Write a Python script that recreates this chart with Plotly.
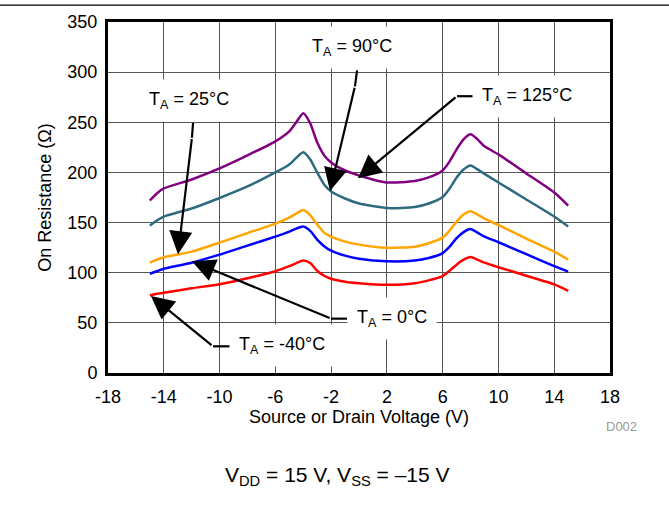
import plotly.graph_objects as go

# ---------------- data ----------------
voltage = [-15, -14.5, -14, -12, -10, -8, -6, -5, -4.5, -4, -3.5, -3, -2.5, -2, -1, 0,
           2, 4, 5, 6, 6.5, 7, 7.5, 8, 8.5, 9, 10, 12, 14, 15]

r_125 = [172, 179, 184, 193, 204, 217, 231, 241, 250, 259, 249, 230, 217, 210, 202, 197,
         190, 191.5, 195, 202, 211, 223, 233, 238, 233, 226, 218, 199, 180, 167]
r_90 = [147, 152, 156, 164, 174.5, 186, 200, 208, 214.5, 220, 213, 200, 188, 181, 174, 169,
        164.5, 165.5, 169, 175.5, 184, 195, 203, 207, 203, 198.5, 190, 173, 156, 146]
r_25 = [110, 113, 115.5, 121, 130, 139.5, 149, 155, 159, 162.5, 157.5, 148, 140, 136, 131, 128,
        124.8, 126, 129.4, 135, 142, 151, 158, 161.3, 158, 154, 147.6, 134, 121, 113]
r_0 = [99, 101.5, 104, 110, 118, 127, 136, 141, 144, 146, 141.7, 133, 126.5, 122, 117, 114,
       111.4, 112.2, 114.7, 119.6, 126, 134.4, 140.5, 143.6, 140, 136, 130.4, 118.5, 106.5, 101]
r_m40 = [77.5, 79, 80, 84.5, 88.5, 94.5, 101.5, 106.5, 109.5, 112.3, 109.7, 102, 97, 94, 91, 89.5,
         88, 89.5, 92.4, 96.6, 102, 108, 113, 115.7, 113, 110, 105.5, 97, 88.4, 82]

series_names = ["T<sub>A</sub> = 125°C", "T<sub>A</sub> = 90°C", "T<sub>A</sub> = 25°C",
                "T<sub>A</sub> = 0°C", "T<sub>A</sub> = -40°C"]
series_values = [r_125, r_90, r_25, r_0, r_m40]
series_colors = ["#800080", "#2F6B80", "#FFA500", "#0000FF", "#FF0000"]

x_ticks = [-18, -14, -10, -6, -2, 2, 6, 10, 14, 18]
x_tick_labels = ["-18", "-14", "-10", "-6", "-2", "2", "6", "10", "14", "18"]
y_ticks = [0, 50, 100, 150, 200, 250, 300, 350]
y_tick_labels = ["0", "50", "100", "150", "200", "250", "300", "350"]

# label positions (data coords): text centre, leader start, bend, arrow tip
label_text_pos = [(12.05, 276), (-0.5, 325), (-12.19, 272), (2.37, 54.2), (-5.52, 27.6)]
leader_start = [(8.32, 276), (-0.14, 301.7), (-11.9, 249.4), (-0.86, 54.2), (-9.25, 26.6)]
leader_bend = [(7.03, 276), (-0.29, 285.9), (-11.98, 234.6), (-2.0, 54.2), (-10.47, 26.6)]
arrow_tip = [(-0.07, 194.2), (-2.08, 181.4), (-12.98, 118.3), (-11.98, 111.4), (-14.92, 76.9)]

FONT = "Liberation Sans, Arial, Helvetica, sans-serif"

fig = go.Figure()
for name, vals, col in zip(series_names, series_values, series_colors):
    fig.add_trace(go.Scatter(x=voltage, y=vals, mode="lines", name=name,
                             line=dict(color=col, width=2.5, shape="spline", smoothing=0.6),
                             showlegend=False, hoverinfo="skip"))

# leader lines of the callouts
for (sx, sy), (bx, by) in zip(leader_start, leader_bend):
    fig.add_trace(go.Scatter(x=[sx, bx], y=[sy, by], mode="lines",
                             line=dict(color="black", width=2.2),
                             showlegend=False, hoverinfo="skip"))

annotations = []
for name, (tx, ty) in zip(series_names, label_text_pos):
    annotations.append(dict(x=tx, y=ty, xref="x", yref="y", text=name, showarrow=False,
                            xanchor="center", yanchor="middle",
                            font=dict(family=FONT, size=18, color="black"),
                            bgcolor="white", borderpad=9))
# arrows from the leader bend to the curve
for (bx, by), (ex, ey) in zip(leader_bend, arrow_tip):
    annotations.append(dict(x=ex, y=ey, ax=bx, ay=by, xref="x", yref="y", axref="x", ayref="y",
                            text="", showarrow=True, arrowhead=2, arrowsize=2.1, arrowwidth=2.2,
                            arrowcolor="black", standoff=0, startstandoff=0))

annotations.append(dict(x=1.022, y=-0.152, xref="paper", yref="paper", text="D002",
                        xanchor="center", yanchor="middle",
                        showarrow=False, font=dict(family=FONT, size=13, color="#999999")))
annotations.append(dict(x=0.457, y=-0.293, xref="paper", yref="paper",
                        xanchor="center", yanchor="middle",
                        text="V<sub>DD</sub> = 15 V, V<sub>SS</sub> = \u201315 V",
                        showarrow=False, font=dict(family=FONT, size=21, color="black")))

fig.update_layout(
    width=669, height=512,
    margin=dict(l=108, r=59, t=18, b=139),
    paper_bgcolor="white", plot_bgcolor="white",
    font=dict(family=FONT, size=18, color="black"),
    annotations=annotations,
    shapes=[dict(type="line", xref="paper", yref="paper", x0=-0.22, x1=1.12,
                 y0=1.048, y1=1.048, line=dict(color="black", width=1.3))],
)
fig.update_xaxes(range=[-18, 18], tickmode="array", tickvals=x_ticks, ticktext=x_tick_labels,
                 showgrid=True, gridcolor="#555555", gridwidth=1, zeroline=False,
                 showline=True, linecolor="black", linewidth=3, mirror=True,
                 ticks="outside", ticklen=5, tickcolor="rgba(0,0,0,0)",
                 tickfont=dict(family=FONT, size=18, color="black"),
                 title=dict(text="Source or Drain Voltage (V)", standoff=2,
                            font=dict(family=FONT, size=18, color="black")))
fig.update_yaxes(range=[0, 350], tickmode="array", tickvals=y_ticks, ticktext=y_tick_labels,
                 showgrid=True, gridcolor="#555555", gridwidth=1, zeroline=False,
                 showline=True, linecolor="black", linewidth=3, mirror=True,
                 ticks="outside", ticklen=4, tickcolor="rgba(0,0,0,0)",
                 tickfont=dict(family=FONT, size=18, color="black"),
                 title=dict(text="On Resistance (\u03a9)", standoff=12,
                            font=dict(family=FONT, size=18, color="black")))

fig.write_html("out.html", config={"displayModeBar": False},
               post_script="document.body.style.margin='0';")
